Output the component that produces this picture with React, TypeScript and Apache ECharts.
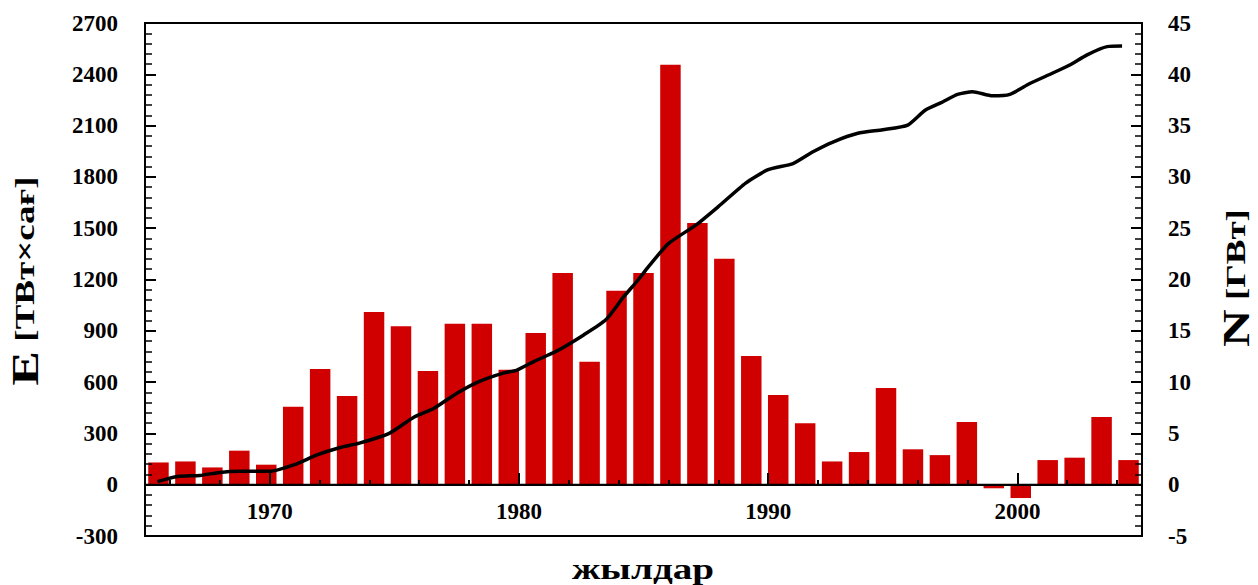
import React, { useEffect, useRef } from "react";
import * as echarts from "echarts";

// Annual energy values (bars, left axis) — one per year
const barYears = [
  "1966", "1967", "1968", "1969", "1970", "1971", "1972", "1973", "1974", "1975",
  "1976", "1977", "1978", "1979", "1980", "1981", "1982", "1983", "1984", "1985",
  "1986", "1987", "1988", "1989", "1990", "1991", "1992", "1993", "1994", "1995",
  "1996", "1997", "1998", "1999", "2000", "2001", "2002",
];
const energyTWh = [
  130, 136, 101, 199, 117, 456, 676, 518, 1010, 926,
  665, 941, 941, 672, 887, 1238, 719, 1134, 1238, 2456,
  1530, 1322, 752, 524, 359, 136, 191, 565, 207, 173,
  366, -21, -78, 144, 158, 396, 144,
];

// Installed capacity curve (line, right axis)
const lineYears = [
  1965.5, 1966.3, 1967.2, 1968.0, 1968.8, 1970.0, 1971.0, 1971.9, 1972.8, 1973.6,
  1974.8, 1975.8, 1976.6, 1977.5, 1978.4, 1979.4, 1979.9, 1980.6, 1981.5, 1982.6,
  1983.5, 1984.2, 1984.8, 1985.2, 1986.0, 1987.1, 1988.0, 1989.1, 1990.0, 1991.0,
  1991.8, 1992.6, 1993.6, 1994.6, 1995.6, 1996.3, 1997.0, 1997.6, 1998.2, 1999.0,
  1999.7, 2000.5, 2001.4, 2002.1, 2002.8, 2003.6, 2004.2,
];
const capacityGW = [
  0.3, 0.8, 0.9, 1.2, 1.3, 1.3, 1.95, 2.9, 3.6, 4.05,
  5.0, 6.6, 7.45, 8.9, 10.05, 10.9, 11.15, 12.0, 13.0, 14.6,
  16.1, 18.3, 20.0, 21.25, 23.5, 25.3, 27.1, 29.4, 30.7, 31.3,
  32.45, 33.4, 34.25, 34.6, 35.05, 36.5, 37.3, 38.05, 38.3, 37.9,
  38.05, 39.1, 40.1, 40.9, 41.9, 42.7, 42.75,
];

// Year axis categories (ticks every two years, labels every decade)
const tickYears: string[] = [];
for (let y = 1965; y <= 2005; y++) tickYears.push(String(y));

const FONT = "'Liberation Serif', 'Times New Roman', serif";

// Plot frame in pixels
const LEFT = 145;
const RIGHT = 116;
const TOP = 23;
const BOTTOM = 49;
// Distance from the page bottom to the zero line (year axis sits there)
const ZERO_BOTTOM = 100;

export default function App() {
  const ref = useRef<HTMLDivElement>(null);

  useEffect(() => {
    if (!ref.current) return;
    const chart = echarts.init(ref.current, undefined, { renderer: "svg" });

    const labelStyle = {
      color: "#000",
      fontFamily: FONT,
      fontWeight: "bold" as const,
      fontSize: 23,
    };

    chart.setOption({
      animation: false,
      backgroundColor: "#fff",
      grid: [
        {
          left: LEFT,
          right: RIGHT,
          top: TOP,
          bottom: BOTTOM,
          show: true,
          borderColor: "#000",
          borderWidth: 2,
          backgroundColor: "transparent",
        },
        {
          // upper part of the frame, ending at the zero line
          left: LEFT,
          right: RIGHT,
          top: TOP,
          bottom: ZERO_BOTTOM,
          show: false,
        },
      ],
      xAxis: [
        {
          type: "category",
          gridIndex: 0,
          data: barYears,
          show: false,
          axisLine: { onZero: false },
        },
        {
          // two-year ticks and decade labels along the zero line
          type: "category",
          gridIndex: 1,
          data: tickYears,
          boundaryGap: false,
          position: "bottom",
          z: 10,
          axisLine: {
            show: true,
            onZero: false,
            lineStyle: { color: "#000", width: 2 },
          },
          axisTick: {
            show: true,
            inside: true,
            length: 5,
            interval: (_i: number, v: string) => Number(v) % 2 === 0,
            lineStyle: { color: "#000", width: 2 },
          },
          axisLabel: {
            ...labelStyle,
            margin: 15,
            interval: (_i: number, v: string) => Number(v) % 10 === 0,
          },
          splitLine: { show: false },
        },
        {
          // longer decade ticks on the same zero line
          type: "category",
          gridIndex: 1,
          data: tickYears,
          boundaryGap: false,
          position: "bottom",
          z: 10,
          axisLine: { show: false, onZero: false },
          axisTick: {
            show: true,
            inside: true,
            length: 12,
            interval: (_i: number, v: string) => Number(v) % 10 === 0,
            lineStyle: { color: "#000", width: 2 },
          },
          axisLabel: { show: false },
          splitLine: { show: false },
        },
        {
          type: "value",
          gridIndex: 0,
          min: 1965,
          max: 2005,
          show: false,
          position: "top",
          axisLine: { onZero: false },
          splitLine: { show: false },
        },
      ],
      yAxis: [
        {
          type: "value",
          gridIndex: 0,
          position: "left",
          min: -300,
          max: 2700,
          interval: 300,
          z: 10,
          axisLine: { show: true, onZero: false, lineStyle: { color: "#000", width: 2 } },
          axisTick: { show: true, inside: true, length: 11, lineStyle: { color: "#000", width: 2 } },
          minorTick: { show: true, splitNumber: 5, length: 7, lineStyle: { color: "#000", width: 1.5 } },
          axisLabel: { ...labelStyle, margin: 27, formatter: (v: number) => String(v) },
          splitLine: { show: false },
        },
        {
          type: "value",
          gridIndex: 0,
          position: "right",
          min: -5,
          max: 45,
          interval: 5,
          z: 10,
          axisLine: { show: true, onZero: false, lineStyle: { color: "#000", width: 2 } },
          axisTick: { show: true, inside: true, length: 11, lineStyle: { color: "#000", width: 2 } },
          minorTick: { show: true, splitNumber: 5, length: 7, lineStyle: { color: "#000", width: 1.5 } },
          axisLabel: { ...labelStyle, margin: 26, formatter: (v: number) => String(v) },
          splitLine: { show: false },
        },
        {
          type: "value",
          gridIndex: 1,
          min: 0,
          max: 1,
          show: false,
          axisLine: { onZero: false },
          splitLine: { show: false },
        },
      ],
      series: [
        {
          type: "bar",
          name: "E",
          xAxisIndex: 0,
          yAxisIndex: 0,
          data: energyTWh,
          barCategoryGap: "24%",
          itemStyle: { color: "#d10000" },
        },
        {
          type: "line",
          name: "N",
          xAxisIndex: 3,
          yAxisIndex: 1,
          data: lineYears.map((y, i) => [y, capacityGW[i]]),
          symbol: "none",
          smooth: 0.2,
          z: 5,
          lineStyle: { color: "#000", width: 3.5 },
        },
      ],
      graphic: [
        {
          id: "nameE",
          type: "text",
          x: 25,
          y: 281,
          rotation: Math.PI / 2,
          scaleX: 1.37,
          style: {
            text: "{big|E} [ТВт×сағ]",
            fill: "#000",
            fontFamily: FONT,
            fontWeight: "bold",
            fontSize: 27,
            align: "center",
            verticalAlign: "middle",
            rich: {
              big: { fontFamily: FONT, fontWeight: "bold", fontSize: 38, fill: "#000" },
            },
          },
        },
        {
          id: "nameN",
          type: "text",
          x: 1236,
          y: 278,
          rotation: Math.PI / 2,
          scaleX: 1.37,
          style: {
            text: "{big|N} [ГВт]",
            fill: "#000",
            fontFamily: FONT,
            fontWeight: "bold",
            fontSize: 27,
            align: "center",
            verticalAlign: "middle",
            rich: {
              big: { fontFamily: FONT, fontWeight: "bold", fontSize: 38, fill: "#000" },
            },
          },
        },
        {
          id: "nameYears",
          type: "text",
          x: 643,
          y: 569,
          scaleX: 1.35,
          style: {
            text: "жылдар",
            fill: "#000",
            fontFamily: FONT,
            fontWeight: "bold",
            fontSize: 29,
            align: "center",
            verticalAlign: "middle",
          },
        },
      ],
    });

    // Zero line across the frame, placed through the axis scales
    const y0 = chart.convertToPixel({ yAxisIndex: 0 }, 0) as number;
    const xL = chart.convertToPixel({ xAxisIndex: 3 }, 1965) as number;
    const xR = chart.convertToPixel({ xAxisIndex: 3 }, 2005) as number;
    chart.setOption({
      graphic: [
        {
          id: "zeroLine",
          type: "rect",
          z: 100,
          shape: { x: xL, y: y0 - 1, width: xR - xL, height: 2 },
          style: { fill: "#000" },
        },
      ],
    });

    return () => chart.dispose();
  }, []);

  return (
    <div
      ref={ref}
      style={{ position: "fixed", left: 0, top: 0, width: 1258, height: 585 }}
    />
  );
}
